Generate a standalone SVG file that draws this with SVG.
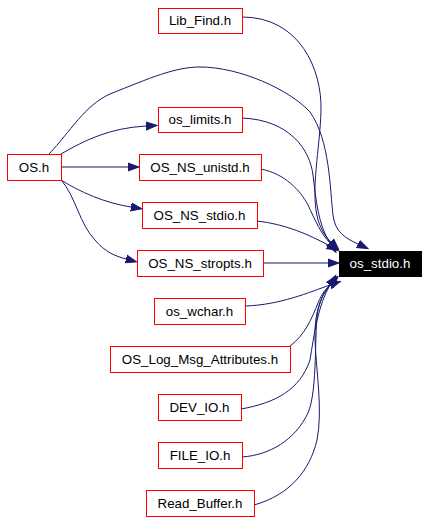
<svg xmlns="http://www.w3.org/2000/svg" width="428" height="522" viewBox="0 0 428 522">
<style>
.n rect{fill:#fff;stroke:#ff0000;stroke-width:1}
.n text{font-family:"Liberation Sans",Arial,sans-serif;font-size:13.33px;text-anchor:middle;fill:#000}
#os_stdio rect{fill:#000;stroke:#000}
#os_stdio text{fill:#fff}
.e path{fill:none;stroke:#191970;stroke-width:1;marker-end:url(#ah)}
</style>
<defs>
<marker id="ah" markerUnits="userSpaceOnUse" markerWidth="13" markerHeight="11" viewBox="0 -5.5 13 11" refX="0" refY="0" orient="auto">
<path d="M0,-4 L11,0 L0,4 Z" fill="#191970" stroke="#191970" stroke-width="1"/>
</marker>
</defs>
<rect width="428" height="522" fill="#fff"/>
<g id="edges" class="e">
<path d="M242,17 C300,17 322,70 321,110 C320,150 310,190 318,220 C322,232 326,237 331,242"/>
<path d="M242,118 C290,120 310,150 313,175 C316,200 318,224 330,243"/>
<path d="M261,169 C285,174 300,190 308,205 C315,220 321,234 330,243"/>
<path d="M257,221 C285,224 310,235 328,245"/>
<path d="M263,263 L328,263"/>
<path d="M49,154 C70,132 85,105 110,94 C150,78 175,67 200,67 C240,67 290,90 310,112 C330,140 330,190 333,215 C335,232 345,238 358,244"/>
<path d="M245,306 C280,305 310,292 330,285"/>
<path d="M290,346 C305,335 312,318 318,303 C322,293 326,289 330,285"/>
<path d="M241,409 C275,403 300,390 310,360 C314,335 318,305 330,285"/>
<path d="M242,457 C270,455 295,440 308,413 C318,390 314,330 318,310 C321,298 325,291 330,285"/>
<path d="M254,505 C290,495 310,470 317,440 C323,410 316,370 315,340 C314,315 320,296 330,285"/>
<path d="M61,154 C85,140 110,128 146,126"/>
<path d="M61,167 L128,167"/>
<path d="M61,180 C80,192 105,203 131,207"/>
<path d="M61,180 C75,195 80,225 95,240 C105,252 115,256 126,259"/>
</g>
<g id="Lib_Find" class="n"><rect x="158.5" y="8.5" width="84" height="25"/><text x="200" y="25">Lib_Find.h</text></g>
<g id="os_limits" class="n"><rect x="158.5" y="107.5" width="84" height="25"/><text x="200" y="124">os_limits.h</text></g>
<g id="OS" class="n"><rect x="7.5" y="154.5" width="54" height="26"/><text x="34" y="171.5">OS.h</text></g>
<g id="OS_NS_unistd" class="n"><rect x="139.5" y="154.5" width="122" height="26"/><text x="200" y="171.5">OS_NS_unistd.h</text></g>
<g id="OS_NS_stdio" class="n"><rect x="142.5" y="202.5" width="115" height="26"/><text x="199.5" y="219.5">OS_NS_stdio.h</text></g>
<g id="OS_NS_stropts" class="n"><rect x="137.5" y="250.5" width="126" height="26"/><text x="200" y="267.5">OS_NS_stropts.h</text></g>
<g id="os_stdio" class="n"><rect x="339.5" y="251.5" width="82" height="25"/><text x="380" y="268">os_stdio.h</text></g>
<g id="os_wchar" class="n"><rect x="154.5" y="298.5" width="91" height="26"/><text x="199.5" y="315.5">os_wchar.h</text></g>
<g id="OS_Log_Msg_Attributes" class="n"><rect x="110.5" y="346.5" width="180" height="26"/><text x="200" y="363.5">OS_Log_Msg_Attributes.h</text></g>
<g id="DEV_IO" class="n"><rect x="158.5" y="394.5" width="83" height="26"/><text x="199.5" y="411.5">DEV_IO.h</text></g>
<g id="FILE_IO" class="n"><rect x="158.5" y="442.5" width="84" height="26"/><text x="200" y="459.5">FILE_IO.h</text></g>
<g id="Read_Buffer" class="n"><rect x="146.5" y="490.5" width="108" height="26"/><text x="200" y="507.5">Read_Buffer.h</text></g>
</svg>
